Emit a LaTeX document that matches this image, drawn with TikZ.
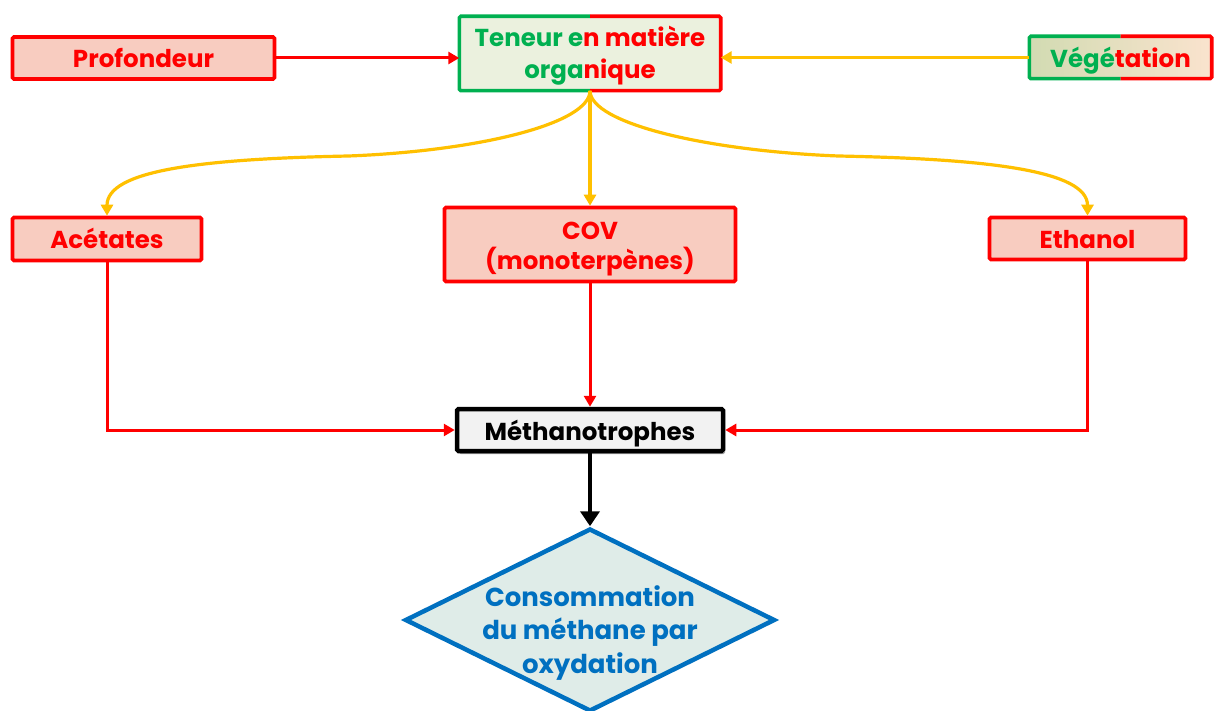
\documentclass[tikz,border=0pt]{standalone}
\usepackage{fontspec}
\setmainfont{Poppins}
\usetikzlibrary{arrows.meta,shadows,shapes.geometric}
\definecolor{cred}{HTML}{FF0000}
\definecolor{cgreen}{HTML}{00B050}
\definecolor{cyel}{HTML}{FFC000}
\definecolor{cblue}{HTML}{0070C0}
\definecolor{fred}{HTML}{F8CCC0}
\definecolor{fgreen}{HTML}{EBF1DE}
\definecolor{fgray}{HTML}{F2F2F2}
\definecolor{fdia}{HTML}{DFECE8}
\definecolor{vgl}{HTML}{D2DBB2}
\definecolor{vgr}{HTML}{FAE3CE}
\begin{document}
\begin{tikzpicture}[x=1pt,y=-1pt,
  base/.style={font=\fontsize{24.5}{32}\selectfont\bfseries, align=center, inner sep=0pt, rounded corners=1.5pt},
  oneline/.style={text height=20pt, text depth=0pt},
  redbox/.style={base, draw=cred, fill=fred, line width=3.6pt, text=cred},
  rarr/.style={draw=cred, line width=3pt, -{Triangle[length=11pt,width=12pt]}},
  yarr/.style={draw=cyel, line width=3.2pt, -{Triangle[length=11pt,width=12pt]}},
  barr/.style={draw=black, line width=4.5pt, -{Triangle[length=15pt,width=19pt]}},
  halfg/.style={draw=cgreen, line width=3.6pt, rounded corners=1.5pt},
  halfr/.style={draw=cred, line width=3.6pt, rounded corners=1.5pt},
]
\clip (0,0) rectangle (1215,711);
\fill[white] (0,0) rectangle (1215,711);

% nodes
\node[redbox, oneline, minimum width=262pt, minimum height=42pt] (P) at (143.5,58) {Profondeur};
\node[base, fill=fgreen, minimum width=261pt, minimum height=74pt] (T) at (590,53.5)
  {\rule{0pt}{25pt}{\color{cgreen}Teneur e}{\color{cred}n matière}\\{\color{cgreen}orga}{\color{cred}nique}};
\draw[halfg] (T.north) -- (T.north west) -- (T.south west) -- (T.south);
\draw[halfr] (T.north) -- (T.north east) -- (T.south east) -- (T.south);
\node[base, oneline, left color=vgl, right color=vgr, minimum width=182pt, minimum height=42pt] (V) at (1120.5,57.5)
  {{\color{cgreen}Végé}{\color{cred}tation}};
\draw[halfg] (V.north) -- (V.north west) -- (V.south west) -- (V.south);
\draw[halfr] (V.north) -- (V.north east) -- (V.south east) -- (V.south);

\node[redbox, oneline, minimum width=189pt, minimum height=43pt] (A) at (107,239) {Acétates};
\node[redbox, font=\fontsize{24.5}{30}\selectfont\bfseries, minimum width=291pt, minimum height=74pt] (C) at (590,244.5) {\rule{0pt}{27pt}COV\\(monoterpènes)};
\node[redbox, oneline, minimum width=196pt, minimum height=42pt] (E) at (1087.5,238.5) {Ethanol};

\node[base, oneline, draw=black, line width=4.5pt, fill=fgray, text=black, minimum width=266pt, minimum height=42pt,
  drop shadow={shadow xshift=2pt, shadow yshift=-3pt, opacity=0.35, fill=black}] (M) at (590,430) {Méthanotrophes};

\node[diamond, draw=cblue, fill=fdia, line width=4.5pt, inner sep=0pt, minimum width=370pt, minimum height=183pt] (D) at (590,620) {};
\node[base, text=cblue, font=\fontsize{26}{33.5}\selectfont\bfseries] (Dt) at (590,633) {Consommation\\du méthane par\\oxydation};

% connectors
\draw[rarr] (P.east) -- (P.east -| T.west);
\draw[yarr] (V.west) -- (V.west -| T.east);

\coordinate (mL) at (348.5,156);
\coordinate (mR) at (838.5,156);
\draw[yarr] (T.south) .. controls +(0,33) and +(130,-5) .. (mL) .. controls +(-150,3) and +(0,-45) .. (A.north);
\draw[yarr] (T.south) .. controls +(0,33) and +(-130,-5) .. (mR) .. controls +(150,3) and +(0,-45) .. (E.north);
\draw[yarr] (T.south) -- (C.north);

\draw[rarr] (C.south) -- (M.north);
\draw[rarr] (A.south) |- (M.west);
\draw[rarr] (E.south) |- (M.east);
\draw[barr] (M.south) -- (D.north);
\end{tikzpicture}
\end{document}
